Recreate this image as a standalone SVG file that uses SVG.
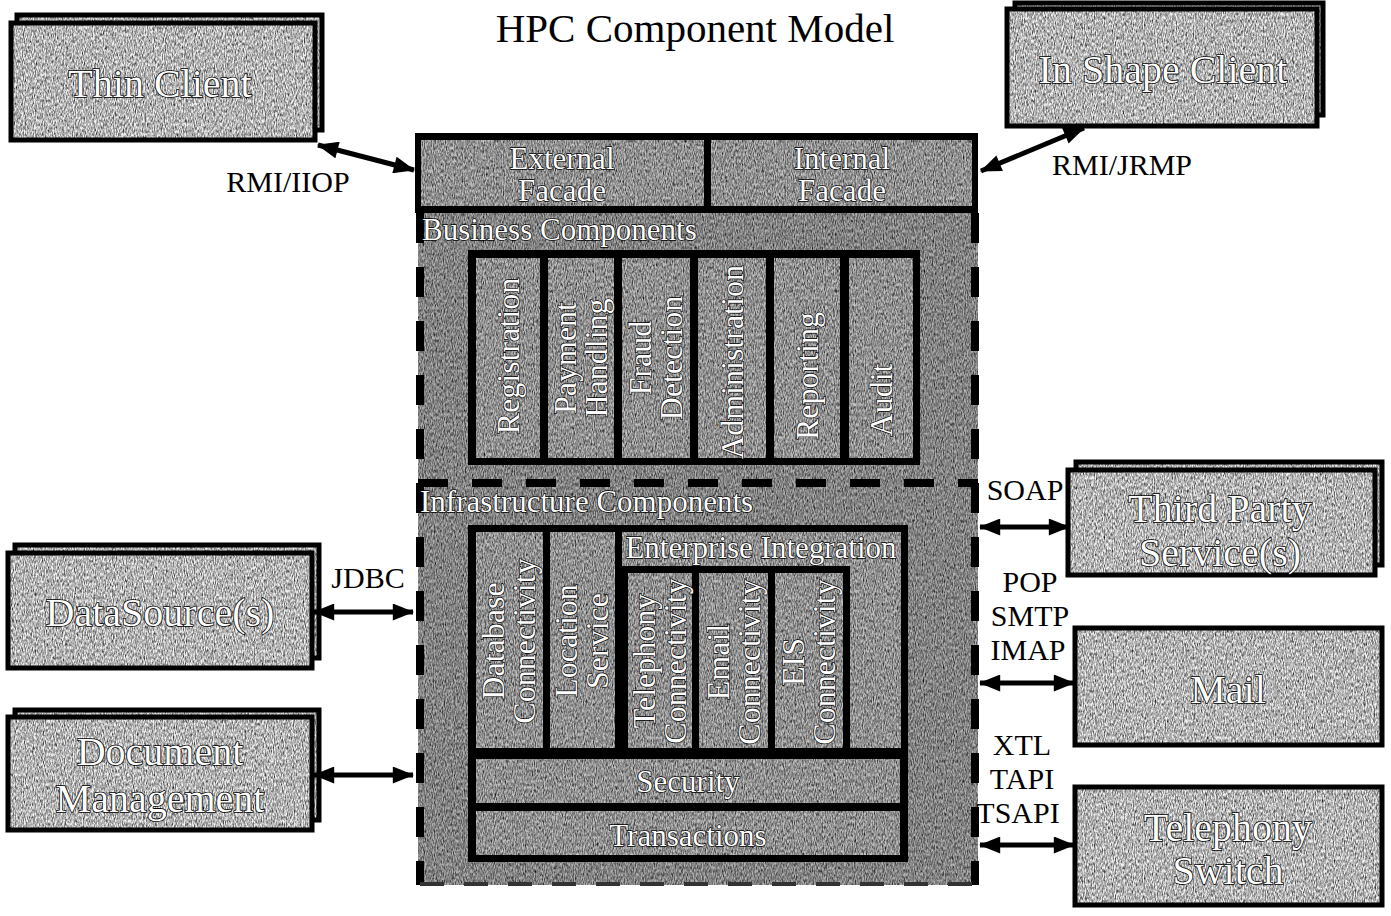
<svg xmlns="http://www.w3.org/2000/svg" width="1391" height="916" viewBox="0 0 1391 916">
<defs>
<filter id="grain" x="0" y="0" width="1" height="1" color-interpolation-filters="sRGB">
<feTurbulence type="fractalNoise" baseFrequency="0.9 0.3" numOctaves="2" seed="7" result="n"/>
<feColorMatrix in="n" type="matrix" values="0.33 0.33 0.33 0 0 0.33 0.33 0.33 0 0 0.33 0.33 0.33 0 0 0 0 0 0 1" result="g"/>
<feComponentTransfer in="g" result="c">
<feFuncR type="linear" slope="2.4" intercept="-0.45"/>
<feFuncG type="linear" slope="2.4" intercept="-0.45"/>
<feFuncB type="linear" slope="2.4" intercept="-0.45"/>
</feComponentTransfer>
<feBlend in="SourceGraphic" in2="c" mode="multiply" result="m"/>
<feComposite in="m" in2="SourceGraphic" operator="in"/>
</filter>
<marker id="ah" viewBox="0 0 20 16" refX="19" refY="8" markerWidth="22" markerHeight="17" markerUnits="userSpaceOnUse" orient="auto-start-reverse">
<path d="M0,0 L20,8 L0,16 Z" fill="#000"/>
</marker>
</defs>
<style>
.tx{fill:#c2c2c2;filter:url(#grain)}
.txl{fill:#f2f2f2;filter:url(#grain)}
.txd{fill:#b0b0b0;filter:url(#grain)}
.bd{fill:none;stroke:#000;stroke-width:5}
.blk{fill:#000}
.big{font-family:"Liberation Serif","Times New Roman",serif;font-size:40px;fill:#fff;stroke:#000;stroke-width:1.6;paint-order:stroke;text-anchor:middle}
.mid{font-family:"Liberation Serif","Times New Roman",serif;font-size:31px;fill:#fff;stroke:#000;stroke-width:1.4;paint-order:stroke}
.col{font-family:"Liberation Serif","Times New Roman",serif;font-size:32px;fill:#fff;stroke:#000;stroke-width:1.4;paint-order:stroke;text-anchor:middle}
.lab{font-family:"Liberation Serif","Times New Roman",serif;font-size:30px;fill:#000;text-anchor:middle}
.conn{stroke:#000;stroke-width:5;fill:none;marker-start:url(#ah);marker-end:url(#ah)}
.dash{stroke:#000;stroke-width:8;fill:none;stroke-dasharray:30 24}
</style>
<rect width="1391" height="916" fill="#fff"/>
<text x="695" y="42" font-family="Liberation Serif, serif" font-size="41" text-anchor="middle" fill="#000">HPC Component Model</text>

<g id="thin-client">
<rect class="txl" x="17" y="15" width="305" height="115"/><rect class="bd" x="17" y="15" width="305" height="115"/>
<rect class="txl" x="11" y="23" width="304" height="117"/><rect class="bd" x="11" y="23" width="304" height="117"/>
<text class="big" x="160" y="97">Thin Client</text>
</g>
<g id="in-shape-client">
<rect class="txl" x="1015" y="3" width="308" height="112"/><rect class="bd" x="1015" y="3" width="308" height="112"/>
<rect class="txl" x="1007" y="9" width="310" height="117"/><rect class="bd" x="1007" y="9" width="310" height="117"/>
<text class="big" x="1163" y="83">In Shape Client</text>
</g>
<g id="third-party">
<rect class="txl" x="1076" y="462" width="306" height="103"/><rect class="bd" x="1076" y="462" width="306" height="103"/>
<rect class="txl" x="1068" y="470" width="307" height="105"/><rect class="bd" x="1068" y="470" width="307" height="105"/>
<text class="big" x="1220" y="522">Third Party</text>
<text class="big" x="1220" y="566">Service(s)</text>
</g>
<g id="mail">
<rect class="txl" x="1075" y="628" width="307" height="117"/><rect class="bd" x="1075" y="628" width="307" height="117"/>
<text class="big" x="1228" y="703">Mail</text>
</g>
<g id="telephony-switch">
<rect class="txl" x="1075" y="787" width="307" height="118"/><rect class="bd" x="1075" y="787" width="307" height="118"/>
<text class="big" x="1228" y="841">Telephony</text>
<text class="big" x="1228" y="884">Switch</text>
</g>
<g id="datasource">
<rect class="txl" x="15" y="545" width="304" height="113"/><rect class="bd" x="15" y="545" width="304" height="113"/>
<rect class="txl" x="8" y="553" width="304" height="115"/><rect class="bd" x="8" y="553" width="304" height="115"/>
<text class="big" x="160" y="626">DataSource(s)</text>
</g>
<g id="document-management">
<rect class="txl" x="15" y="710" width="304" height="110"/><rect class="bd" x="15" y="710" width="304" height="110"/>
<rect class="txl" x="8" y="717" width="304" height="113"/><rect class="bd" x="8" y="717" width="304" height="113"/>
<text class="big" x="160" y="765">Document</text>
<text class="big" x="160" y="812">Management</text>
</g>

<g id="hpc-server">
<rect class="txd" x="418" y="133" width="560" height="752"/>
<line class="dash" x1="420" y1="213" x2="420" y2="885"/>
<line class="dash" x1="975" y1="213" x2="975" y2="885"/>
<line class="dash" x1="418" y1="483" x2="978" y2="483"/>
<line x1="420" y1="884" x2="976" y2="884" stroke="#333" stroke-width="4" stroke-dasharray="24 20"/>
</g>
<g id="facades">
<rect class="blk" x="415" y="133" width="563" height="80"/>
<rect class="tx" x="421" y="140" width="283" height="66"/>
<rect class="tx" x="711" y="140" width="261" height="66"/>
<text class="mid" x="562" y="169" text-anchor="middle">External</text>
<text class="mid" x="562" y="201" text-anchor="middle">Facade</text>
<text class="mid" x="842" y="169" text-anchor="middle">Internal</text>
<text class="mid" x="842" y="201" text-anchor="middle">Facade</text>
</g>
<g id="business-components">
<text class="mid" x="422" y="240">Business Components</text>
<rect class="blk" x="468" y="250" width="452" height="215"/>
<rect class="tx" x="476" y="258" width="64" height="200"/>
<rect class="tx" x="548" y="258" width="66" height="200"/>
<rect class="tx" x="622" y="258" width="68" height="200"/>
<rect class="tx" x="698" y="258" width="68" height="200"/>
<rect class="tx" x="774" y="258" width="66" height="200"/>
<rect class="tx" x="849" y="258" width="64" height="200"/>
<text class="col" transform="translate(508,356) rotate(-90)" y="11">Registration</text>
<text class="col" transform="translate(581,358) rotate(-90)"><tspan x="0" y="-5">Payment</tspan><tspan x="0" y="26">Handling</tspan></text>
<text class="col" transform="translate(656,358) rotate(-90)"><tspan x="0" y="-5">Fraud</tspan><tspan x="0" y="26">Detection</tspan></text>
<text class="col" transform="translate(732,362) rotate(-90)" y="11">Administration</text>
<text class="col" transform="translate(807,376) rotate(-90)" y="11">Reporting</text>
<text class="col" transform="translate(881,400) rotate(-90)" y="11">Audit</text>
</g>
<g id="infrastructure-components">
<text class="mid" x="420" y="512">Infrastructure Components</text>
<rect class="blk" x="468" y="525" width="440" height="337"/>
<rect class="tx" x="476" y="532" width="67" height="216"/>
<rect class="tx" x="550" y="532" width="65" height="216"/>
<rect class="tx" x="622" y="532" width="279" height="216"/>
<text class="mid" x="761" y="558" text-anchor="middle">Enterprise Integration</text>
<rect class="blk" x="621" y="566" width="229" height="186"/>
<rect class="tx" x="628" y="573" width="64" height="175"/>
<rect class="tx" x="699" y="573" width="69" height="175"/>
<rect class="tx" x="775" y="573" width="68" height="175"/>
<rect class="tx" x="476" y="759" width="424" height="44"/>
<rect class="tx" x="476" y="811" width="424" height="44"/>
<text class="col" transform="translate(509,641) rotate(-90)"><tspan x="0" y="-5">Database</tspan><tspan x="0" y="26">Connectivity</tspan></text>
<text class="col" transform="translate(582,641) rotate(-90)"><tspan x="0" y="-5">Location</tspan><tspan x="0" y="26">Service</tspan></text>
<text class="col" transform="translate(660,661) rotate(-90)"><tspan x="0" y="-5">Telephony</tspan><tspan x="0" y="26">Connectivity</tspan></text>
<text class="col" transform="translate(734,662) rotate(-90)"><tspan x="0" y="-5">Email</tspan><tspan x="0" y="26">Connectivity</tspan></text>
<text class="col" transform="translate(809,662) rotate(-90)"><tspan x="0" y="-5">EIS</tspan><tspan x="0" y="26">Connectivity</tspan></text>
<text class="mid" x="688" y="792" text-anchor="middle">Security</text>
<text class="mid" x="688" y="846" text-anchor="middle">Transactions</text>
</g>

<g id="connectors">
<line class="conn" x1="318" y1="145" x2="414" y2="170"/>
<line class="conn" x1="981" y1="171" x2="1084" y2="128"/>
<line class="conn" x1="314" y1="612" x2="413" y2="612"/>
<line class="conn" x1="314" y1="775" x2="413" y2="775"/>
<line class="conn" x1="980" y1="527" x2="1069" y2="527"/>
<line class="conn" x1="980" y1="683" x2="1074" y2="683"/>
<line class="conn" x1="980" y1="845" x2="1074" y2="845"/>
<text class="lab" x="288" y="192">RMI/IIOP</text>
<text class="lab" x="1122" y="175">RMI/JRMP</text>
<text class="lab" x="368" y="588">JDBC</text>
<text class="lab" x="1025" y="500">SOAP</text>
<text class="lab" x="1030" y="592">POP</text>
<text class="lab" x="1030" y="626">SMTP</text>
<text class="lab" x="1028" y="660">IMAP</text>
<text class="lab" x="1022" y="755">XTL</text>
<text class="lab" x="1022" y="789">TAPI</text>
<text class="lab" x="1018" y="823">TSAPI</text>
</g>
</svg>
